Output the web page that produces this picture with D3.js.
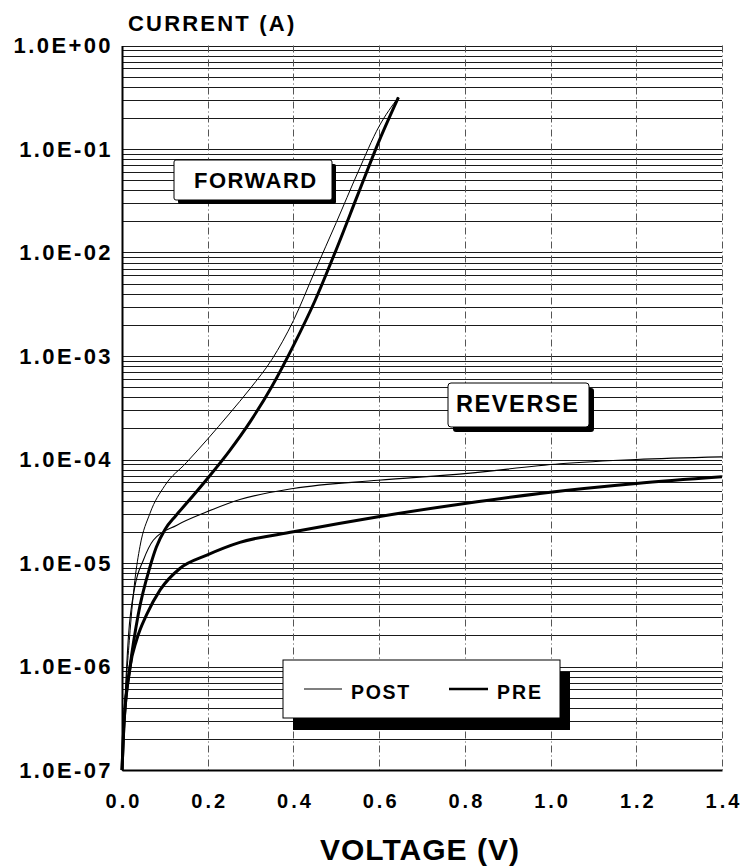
<!DOCTYPE html>
<html>
<head>
<meta charset="utf-8">
<script src="https://cdn.jsdelivr.net/npm/d3@7/dist/d3.min.js"></script>
<style>
  body { margin: 0; background: #fff; }
  svg { display: block; font-family: "Liberation Sans", Arial, sans-serif; font-weight: bold; }
</style>
</head>
<body>
<svg id="chart" width="741" height="867"></svg>
<script>
// forward, pre-irradiation (thick)
const fwdPreV = [0, 0.004, 0.019, 0.038, 0.065, 0.08, 0.1, 0.125, 0.15, 0.2, 0.25, 0.3, 0.35, 0.4, 0.45, 0.5, 0.55, 0.6, 0.645];
const fwdPreI = [1e-7, 2.5e-7, 1e-6, 3.2e-6, 9.1e-6, 1.42e-5, 2.1e-5, 2.85e-5, 3.75e-5, 6.6e-5, 1.2e-4, 2.35e-4, 5.1e-4, 1.26e-3, 3.4e-3, 1.07e-2, 3.6e-2, 0.12, 0.316];

// forward, post-irradiation (thin)
const fwdPostV = [0, 0.004, 0.019, 0.030, 0.042, 0.065, 0.1, 0.15, 0.2, 0.25, 0.3, 0.35, 0.4, 0.45, 0.5, 0.55, 0.6, 0.645];
const fwdPostI = [1e-7, 2.5e-7, 2.24e-6, 6.8e-6, 1.45e-5, 3.0e-5, 5.6e-5, 9.3e-5, 1.58e-4, 2.75e-4, 4.9e-4, 9.3e-4, 2.2e-3, 6.6e-3, 1.95e-2, 5.9e-2, 0.166, 0.316];

// reverse, post (thin)
const revPostV = [0, 0.004, 0.015, 0.030, 0.05, 0.073, 0.128, 0.198, 0.275, 0.4, 0.598, 0.8, 1.022, 1.2, 1.4];
const revPostI = [1e-7, 2.5e-7, 1.95e-6, 5.9e-6, 1.07e-5, 1.66e-5, 2.32e-5, 3.12e-5, 4.1e-5, 5.25e-5, 6.3e-5, 7.3e-5, 9.1e-5, 1.0e-4, 1.06e-4];

// reverse, pre (thick)
const revPreV = [0, 0.004, 0.019, 0.034, 0.058, 0.089, 0.135, 0.198, 0.275, 0.4, 0.598, 0.8, 0.975, 1.2, 1.4];
const revPreI = [1e-7, 2.5e-7, 1e-6, 1.8e-6, 3.2e-6, 5.5e-6, 8.85e-6, 1.19e-5, 1.58e-5, 2.0e-5, 2.8e-5, 3.76e-5, 4.7e-5, 5.86e-5, 6.8e-5];

const yTickValues = [1e-7, 1e-6, 1e-5, 1e-4, 1e-3, 1e-2, 1e-1, 1];
const yTickLabels = ["1.0E-07", "1.0E-06", "1.0E-05", "1.0E-04", "1.0E-03", "1.0E-02", "1.0E-01", "1.0E+00"];
const xTickValues = [0, 0.2, 0.4, 0.6, 0.8, 1.0, 1.2, 1.4];

const svg = d3.select("#chart");
const plotLeft = 122, plotRight = 722, plotTop = 45.5, plotBottom = 770;

const x = d3.scaleLinear().domain([0, 1.4]).range([plotLeft, plotRight]);
const y = d3.scaleLog().domain([1e-7, 1]).range([plotBottom, plotTop]);

svg.append("rect").attr("width", 741).attr("height", 867).attr("fill", "#fff");

// horizontal grid, every minor decade step
svg.append("g")
  .selectAll("line")
  .data(y.ticks())
  .join("line")
  .attr("x1", plotLeft)
  .attr("x2", plotRight)
  .attr("y1", d => Math.round(y(d)) + 0.5)
  .attr("y2", d => Math.round(y(d)) + 0.5)
  .attr("stroke", "#1a1a1a")
  .attr("stroke-width", 1.1);

// vertical grid
svg.append("g")
  .selectAll("line")
  .data(xTickValues.slice(1))
  .join("line")
  .attr("x1", d => Math.round(x(d)) + 0.5)
  .attr("x2", d => Math.round(x(d)) + 0.5)
  .attr("y1", plotTop)
  .attr("y2", plotBottom)
  .attr("stroke", "#555")
  .attr("stroke-width", 1)
  .attr("stroke-dasharray", "7,3,1,3");

// axes
const yAxis = svg.append("g")
  .attr("transform", `translate(${plotLeft},0)`)
  .call(d3.axisLeft(y)
    .tickValues(yTickValues)
    .tickFormat((d, i) => yTickLabels[i])
    .tickSize(0)
    .tickPadding(9));
yAxis.select(".domain").attr("stroke", "#000").attr("stroke-width", 2);
yAxis.selectAll("text")
  .attr("fill", "#000")
  .style("font-family", "Liberation Sans, Arial, sans-serif")
  .style("font-weight", "bold")
  .style("font-size", "22px")
  .style("letter-spacing", "2.4px");

const xAxis = svg.append("g")
  .attr("transform", `translate(0,${plotBottom})`)
  .call(d3.axisBottom(x)
    .tickValues(xTickValues)
    .tickFormat(d3.format(".1f"))
    .tickSize(0)
    .tickPadding(24));
xAxis.select(".domain").attr("stroke", "#000").attr("stroke-width", 2);
xAxis.selectAll("text")
  .attr("fill", "#000")
  .attr("dx", "1.5px")
  .style("font-family", "Liberation Sans, Arial, sans-serif")
  .style("font-weight", "bold")
  .style("font-size", "20px")
  .style("letter-spacing", "3px");

// curves
const line = d3.line()
  .x(d => x(d[0]))
  .y(d => y(d[1]))
  .curve(d3.curveMonotoneX);

const series = [
  { v: revPreV, i: revPreI, w: 3 },
  { v: fwdPreV, i: fwdPreI, w: 3 },
  { v: revPostV, i: revPostI, w: 1.1 },
  { v: fwdPostV, i: fwdPostI, w: 1 }
];

svg.append("g")
  .selectAll("path")
  .data(series)
  .join("path")
  .attr("d", s => line(s.v.map((v, k) => [v, s.i[k]])))
  .attr("fill", "none")
  .attr("stroke", "#000")
  .attr("stroke-width", s => s.w)
  .attr("stroke-linejoin", "round");

// boxed labels with drop shadows
function shadowBox(bx, by, bw, bh, dx, dy, rx) {
  svg.append("rect")
    .attr("x", bx + dx).attr("y", by + dy)
    .attr("width", bw).attr("height", bh)
    .attr("rx", rx)
    .attr("fill", "#000");
  svg.append("rect")
    .attr("x", bx).attr("y", by)
    .attr("width", bw).attr("height", bh)
    .attr("rx", rx)
    .attr("fill", "#fff")
    .attr("stroke", "#000")
    .attr("stroke-width", 1);
}

function label(tx, ty, size, spacing, txt, anchor) {
  svg.append("text")
    .attr("x", tx).attr("y", ty)
    .attr("text-anchor", anchor || "start")
    .style("font-size", size + "px")
    .style("letter-spacing", spacing + "px")
    .text(txt);
}

shadowBox(174, 160, 158, 40, 4, 4, 2);
label(194, 188, 22, 1.5, "FORWARD");

shadowBox(448, 383, 141, 44, 5, 5, 3);
label(456, 412, 23.5, 1.6, "REVERSE");

// legend
shadowBox(283, 660, 277, 58, 10, 12, 0);
svg.append("line")
  .attr("x1", 304).attr("x2", 342).attr("y1", 689).attr("y2", 689)
  .attr("stroke", "#000").attr("stroke-width", 1.2);
label(351, 699, 19.5, 1.7, "POST");
svg.append("line")
  .attr("x1", 449).attr("x2", 488).attr("y1", 689).attr("y2", 689)
  .attr("stroke", "#000").attr("stroke-width", 2.6);
label(497, 699, 19.5, 2, "PRE");

// axis titles
label(128, 31, 22, 2.2, "CURRENT (A)");
label(320, 860, 30, 1, "VOLTAGE (V)");
</script>
</body>
</html>
